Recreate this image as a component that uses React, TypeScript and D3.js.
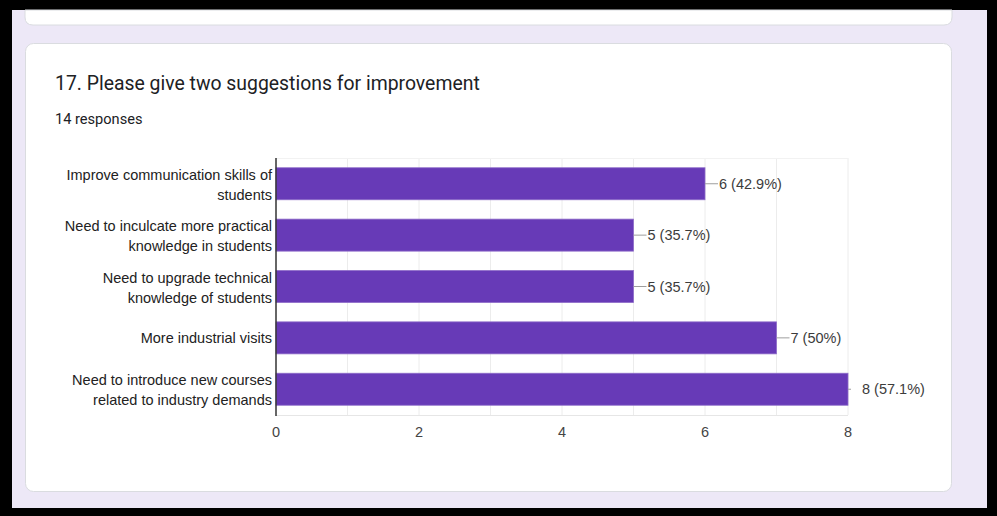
import React from "react";
import * as d3 from "d3";

const categories = [
  "Improve communication skills of\nstudents",
  "Need to inculcate more practical\nknowledge in students",
  "Need to upgrade technical\nknowledge of students",
  "More industrial visits",
  "Need to introduce new courses\nrelated to industry demands",
];
const values = [6, 5, 5, 7, 8];
const percents = ["42.9%", "35.7%", "35.7%", "50%", "57.1%"];
const xTicks = [0, 2, 4, 6, 8];
const gridValues = [1, 2, 3, 4, 5, 6, 7, 8];
const title = "17. Please give two suggestions for improvement";
const subtitle = "14 responses";

const W = 997;
const H = 516;

export default function App() {
  const x = d3.scaleLinear().domain([0, 8]).range([276, 848]);
  const y = d3
    .scaleBand<string>()
    .domain(categories)
    .range([158, 415])
    .paddingInner(0.377)
    .paddingOuter(0.19);
  const bw = y.bandwidth();
  const labelFont = "'Liberation Sans', Arial, sans-serif";
  const maxV = d3.max(values) as number;

  return (
    <svg
      width={W}
      height={H}
      style={{ position: "absolute", left: 0, top: 0, display: "block" }}
    >
      <rect x={0} y={0} width={W} height={H} fill="#000" />
      <rect x={12} y={10} width={975} height={498} fill="#ede8f7" />
      {/* top card remnant */}
      <path
        d={`M25,10 L952,10 L952,17 Q952,25 944,25 L33,25 Q25,25 25,17 Z`}
        fill="#fff"
        stroke="#dadce0"
        strokeWidth={1}
      />
      {/* main card */}
      <rect
        x={25.5}
        y={43.5}
        width={926}
        height={448}
        rx={8}
        ry={8}
        fill="#fff"
        stroke="#dadce0"
        strokeWidth={1}
      />
      <text
        x={55}
        y={90}
        fontFamily="Roboto, 'Open Sans', sans-serif"
        fontSize={19.4}
        fill="#202124"
      >
        {title}
      </text>
      <text
        x={55}
        y={124}
        fontFamily="Roboto, 'Open Sans', sans-serif"
        fontSize={14.6}
        fill="#202124"
      >
        {subtitle}
      </text>

      {/* gridlines */}
      {gridValues.map((g) => (
        <line
          key={"g" + g}
          x1={x(g)}
          x2={x(g)}
          y1={158}
          y2={415}
          stroke="#ececec"
          strokeWidth={1}
        />
      ))}
      <line x1={x(0)} x2={x(8)} y1={158.5} y2={158.5} stroke="#f2f2f2" />
      <line x1={x(0)} x2={x(8)} y1={415.5} y2={415.5} stroke="#e6e6e6" />

      {/* bars */}
      {categories.map((c, i) => {
        const y0 = y(c) as number;
        const v = values[i];
        const end = x(v);
        const isMax = v === maxV;
        const lineEnd = isMax ? end + 3 : end + 13;
        const textX = end + 14;
        return (
          <g key={c}>
            <rect
              x={x(0)}
              y={y0}
              width={end - x(0)}
              height={bw}
              fill="#673ab7"
              stroke="#8e6cc9"
              strokeWidth={0.8}
            />
            <line
              x1={end}
              x2={lineEnd}
              y1={y0 + bw / 2}
              y2={y0 + bw / 2}
              stroke="#9e9e9e"
              strokeWidth={1}
            />
            <text
              x={textX}
              y={y0 + bw / 2 + 5}
              fontFamily={labelFont}
              fontSize={14.5}
              fill="#3c3c3c"
            >
              {`${v} (${percents[i]})`}
            </text>
          </g>
        );
      })}

      {/* axis line */}
      <line x1={276} x2={276} y1={158} y2={416} stroke="#333" strokeWidth={1.5} />

      {/* category labels */}
      {categories.map((c) => {
        const lines = c.split("\n");
        const cy = (y(c) as number) + bw / 2;
        const first = lines.length === 1 ? cy + 5 : cy - 4;
        return (
          <text
            key={"l" + c}
            x={272}
            textAnchor="end"
            fontFamily={labelFont}
            fontSize={14.5}
            fill="#222"
          >
            {lines.map((ln, j) => (
              <tspan key={j} x={272} y={first + j * 20}>
                {ln}
              </tspan>
            ))}
          </text>
        );
      })}

      {/* x tick labels */}
      {xTicks.map((t) => (
        <text
          key={"t" + t}
          x={x(t)}
          y={437}
          textAnchor="middle"
          fontFamily={labelFont}
          fontSize={14.5}
          fill="#444"
        >
          {t}
        </text>
      ))}
    </svg>
  );
}
